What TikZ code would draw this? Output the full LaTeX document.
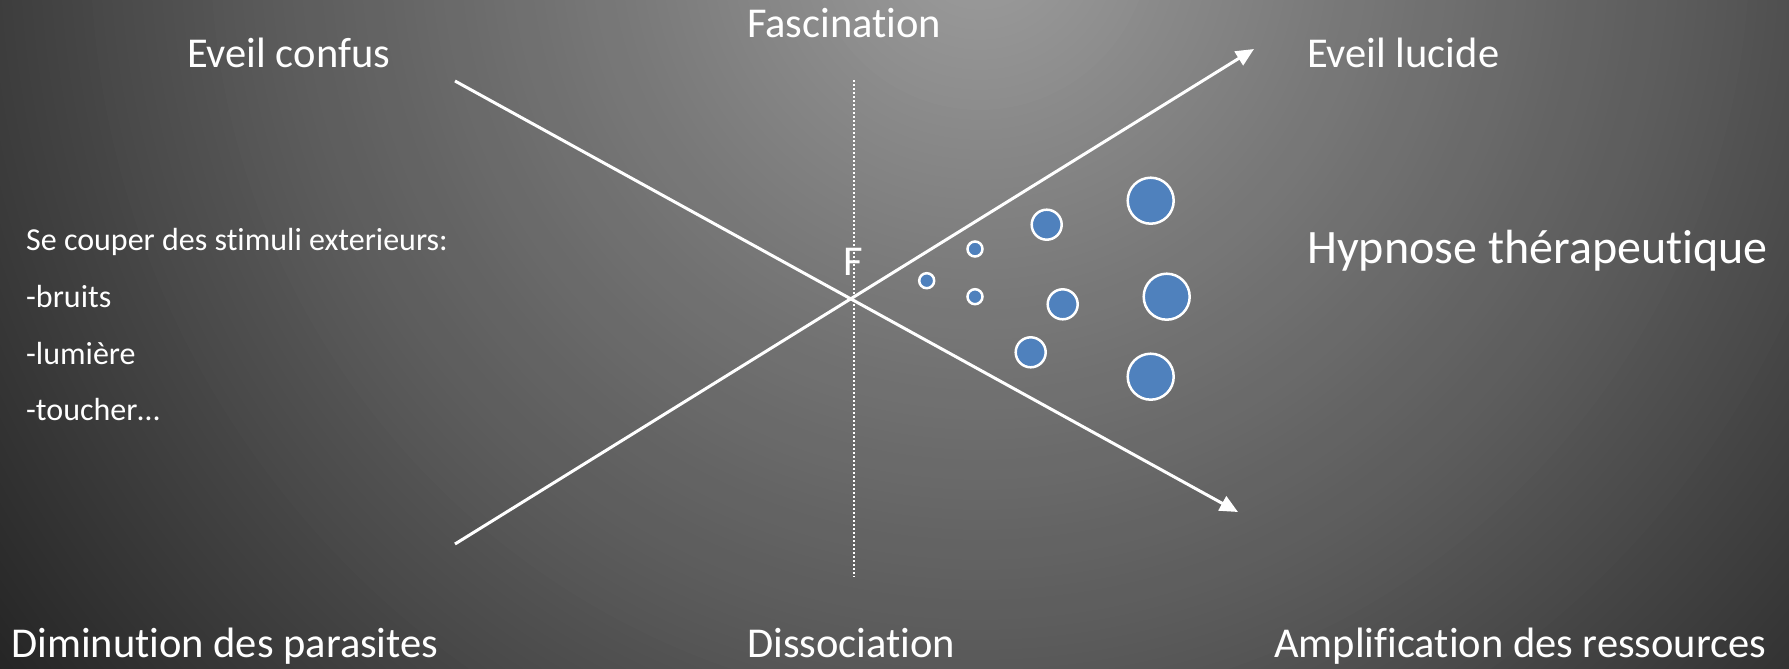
\documentclass[tikz,border=0pt]{standalone}
\usepackage{fontspec}
\setmainfont{Carlito}[Ligatures={NoCommon}]
\usetikzlibrary{arrows.meta}
\definecolor{bubblue}{RGB}{79,129,189}
\tikzset{
  lbl/.style={text=white, inner sep=0pt, anchor=base west, font=\fontsize{42.5}{51}\selectfont},
  big/.style={lbl, font=\fontsize{48}{58}\selectfont},
  small/.style={lbl, font=\fontsize{32}{38}\selectfont},
  axisline/.style={draw=white, line width=3pt, -{Triangle[length=18pt,width=16pt]}},
  dotline/.style={draw=white, line width=2pt, dash pattern=on 2pt off 2pt},
  bub/.style={circle, fill=bubblue, draw=white, line width=2.5pt, inner sep=0pt}
}
\begin{document}
\begin{tikzpicture}[x=1pt, y=-1pt]
\useasboundingbox (0,0) rectangle (1789,669);
\begin{scope}
\clip (0,0) rectangle (1789,669);
\fill[black!86] (0,0) rectangle (1789,669);
\foreach \i in {0,...,126} {
  \pgfmathsetmacro\rr{1260-10*\i}
  \pgfmathsetmacro\tt{\rr/100}
  \pgfmathsetmacro\vv{\tt<3.5 ? 158-10.2857*\tt : (\tt<7.2 ? 122-8.6486*(\tt-3.5) : (\tt<9.6 ? 90-10.8333*(\tt-7.2) : max(36,64-10*(\tt-9.6))))}
  \pgfmathsetmacro\gg{\vv/255}
  \definecolor{bgtmp}{gray}{\gg}
  \fill[bgtmp] (980,-60) circle (\rr);
}
\end{scope}
% lines
\coordinate (a1) at (455,81);
\coordinate (a2) at (1238,512);
\coordinate (b1) at (455,544);
\coordinate (b2) at (1254,49);
\coordinate (d1) at (854,80);
\coordinate (d2) at (854,577);
\draw[dotline] (d1) -- (d2);
\draw[axisline] (a1) -- (a2);
\draw[axisline] (b1) -- (b2);
% bubbles
\node[bub, minimum size=15pt] (s1) at (926.7,280.7) {};
\node[bub, minimum size=15pt] (s2) at (975,249) {};
\node[bub, minimum size=15pt] (s3) at (975,296.7) {};
\node[bub, minimum size=30pt] (m1) at (1046.7,224.7) {};
\node[bub, minimum size=30pt] (m2) at (1062.7,304.3) {};
\node[bub, minimum size=30pt] (m3) at (1030.7,352.3) {};
\node[bub, minimum size=46pt] (l1) at (1150.7,200.7) {};
\node[bub, minimum size=46pt] (l2) at (1166.7,296.7) {};
\node[bub, minimum size=46pt] (l3) at (1150.7,376.7) {};
% labels
\node[lbl] (confus) at (187,67) {Eveil confus};
\node[lbl] (fasc) at (747,38) {Fascination};
\node[lbl] (lucide) at (1307,67) {Eveil lucide};
\node[big] (hyp) at (1307,263) {Hypnose thérapeutique};
\node[lbl] (F) at (843,275) {F};
\node[small] (se) at (26,250) {Se couper des stimuli exterieurs:};
\node[small] (br) at (26,307) {-bruits};
\node[small] (lu) at (26,364) {-lumière};
\node[small] (to) at (26,420) {-toucher…};
\node[lbl] (dim) at (11,657) {Diminution des parasites};
\node[lbl] (dis) at (747,657) {Dissociation};
\node[lbl] (amp) at (1274,657) {Amplification des ressources};
\end{tikzpicture}
\end{document}
